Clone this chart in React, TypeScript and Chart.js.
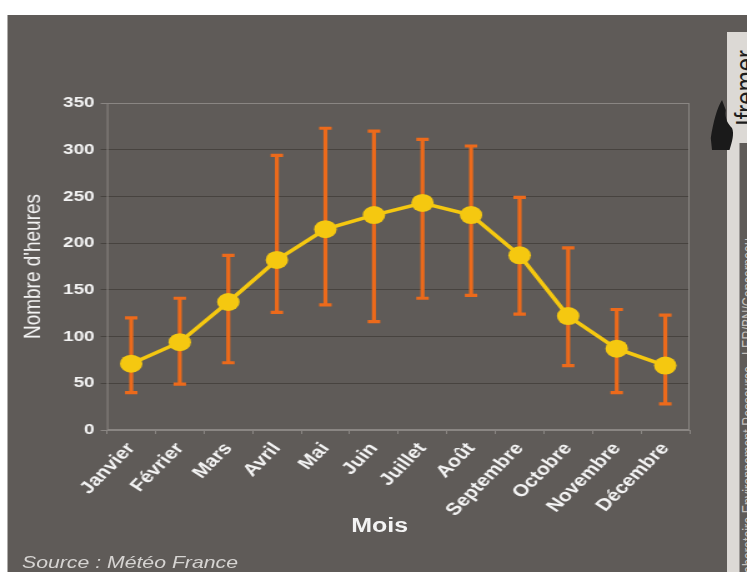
import { useEffect, useRef } from 'react';
import { Chart, registerables } from 'chart.js';

Chart.register(...registerables);

// Monthly sunshine (hours): mean, lowest and highest observed values
const months = ['Janvier', 'Février', 'Mars', 'Avril', 'Mai', 'Juin', 'Juillet', 'Août', 'Septembre', 'Octobre', 'Novembre', 'Décembre'];
const meanHours = [71, 94, 137, 182, 215, 230, 243, 230, 187, 122, 87, 69];
const lowHours = [40, 49, 72, 126, 134, 116, 141, 144, 124, 69, 40, 28];
const highHours = [120, 141, 187, 294, 323, 320, 311, 304, 249, 195, 129, 123];
const yMin = 0;
const yMax = 350;
const yStep = 50;

// Drawing surface is laid out narrow, then widened horizontally
const W = 598;
const H = 572;
const STRETCH = 747 / W;

const PANEL = '#5f5b58';
const GRID = '#47433f';
const FRAME = '#8a8683';
const TEXT = '#f3f3f3';
const ORANGE = '#ec6a1b';
const YELLOW = '#f5c810';

const FONT = '"Liberation Sans", Arial, sans-serif';

const errorBars = {
  id: 'errorBars',
  beforeDatasetsDraw(chart: any) {
    const { ctx, chartArea, scales } = chart;
    const x = scales.x;
    const y = scales.y;
    ctx.save();
    ctx.strokeStyle = FRAME;
    ctx.lineWidth = 1;
    ctx.strokeRect(chartArea.left + 0.5, chartArea.top + 0.5, chartArea.width - 1, chartArea.height - 1);

    ctx.strokeStyle = ORANGE;
    ctx.lineWidth = 3.2;
    ctx.lineCap = 'butt';
    months.forEach((_, i) => {
      const px = x.getPixelForValue(i);
      const top = y.getPixelForValue(highHours[i]);
      const bot = y.getPixelForValue(lowHours[i]);
      ctx.beginPath();
      ctx.moveTo(px, top);
      ctx.lineTo(px, bot);
      ctx.moveTo(px - 5, top);
      ctx.lineTo(px + 5, top);
      ctx.moveTo(px - 5, bot);
      ctx.lineTo(px + 5, bot);
      ctx.stroke();
    });
    ctx.restore();
  },
};

export default function App() {
  const canvasRef = useRef<HTMLCanvasElement>(null);

  useEffect(() => {
    const canvas = canvasRef.current;
    if (!canvas) return;
    const chart = new Chart(canvas, {
      type: 'line',
      data: {
        labels: months,
        datasets: [
          {
            data: meanHours,
            borderColor: YELLOW,
            borderWidth: 3.5,
            tension: 0,
            pointRadius: 9,
            pointBackgroundColor: YELLOW,
            pointBorderWidth: 0,
            pointHoverRadius: 9,
          },
        ],
      },
      options: {
        responsive: false,
        animation: false,
        devicePixelRatio: 1,
        events: [],
        layout: { padding: { left: 0, top: 103, right: W - 552, bottom: 0 } },
        plugins: { legend: { display: false }, tooltip: { enabled: false } },
        scales: {
          x: {
            offset: true,
            grid: { display: true, drawOnChartArea: false, offset: true, tickLength: 4, color: FRAME },
            border: { display: false },
            ticks: {
              color: TEXT,
              font: { family: FONT, size: 17, weight: 'bold' },
              minRotation: 51,
              maxRotation: 51,
              autoSkip: false,
              padding: 5,
            },
            afterFit: (s: any) => {
              s.height = H - 430;
            },
          },
          y: {
            min: yMin,
            max: yMax,
            grid: {
              color: (c: any) => (c.tick && (c.tick.value === yMin || c.tick.value === yMax) ? FRAME : GRID),
              tickLength: 5,
              lineWidth: 1,
            },
            border: { display: false },
            ticks: {
              stepSize: yStep,
              color: TEXT,
              font: { family: FONT, size: 15, weight: 'bold' },
              padding: 5,
            },
            title: {
              display: true,
              text: "Nombre d'heures",
              color: TEXT,
              font: { family: FONT, size: 19, weight: 'normal' },
              padding: { top: 15, bottom: 0 },
            },
            afterFit: (s: any) => {
              s.width = 85.6;
            },
          },
        },
      },
      plugins: [errorBars],
    });
    return () => chart.destroy();
  }, []);

  return (
    <div
      style={{
        position: 'absolute',
        left: 0,
        top: 0,
        width: W,
        height: H,
        overflow: 'hidden',
        background: '#ffffff',
        transform: `scaleX(${STRETCH})`,
        transformOrigin: '0 0',
      }}
    >
      <div style={{ position: 'absolute', left: 5.6, top: 15, width: W - 5.6, height: H - 15, background: PANEL }} />

      <canvas
        ref={canvasRef}
        width={W}
        height={H}
        style={{ position: 'absolute', left: 0, top: 0, width: W, height: H }}
      />

      <div
        style={{
          position: 'absolute',
          left: 254,
          width: 100,
          top: 514,
          lineHeight: '24px',
          textAlign: 'center',
          font: `bold 20px ${FONT}`,
          color: TEXT,
        }}
      >
        Mois
      </div>

      <div
        style={{
          position: 'absolute',
          left: 17.6,
          top: 553,
          lineHeight: '20px',
          whiteSpace: 'nowrap',
          font: `italic 17px ${FONT}`,
          color: '#d6d4d2',
        }}
      >
        Source : Météo France
      </div>

      {/* Ifremer side banner */}
      <div style={{ position: 'absolute', left: 582, top: 32, width: W - 582, height: H - 32, background: '#dcd9d5' }} />
      <div
        style={{
          position: 'absolute',
          left: 582.5,
          top: 126,
          lineHeight: '24px',
          whiteSpace: 'nowrap',
          font: `24px ${FONT}`,
          color: '#1c1c1c',
          transform: 'rotate(-90deg)',
          transformOrigin: '0 0',
        }}
      >
        Ifremer
      </div>
      <svg
        width={W}
        height={H}
        style={{ position: 'absolute', left: 0, top: 0, pointerEvents: 'none' }}
      >
        <path
          d="M578,100 C574,108 571,122 569,138 L570,150 L584,150 C586,142 588,134 586,128 C583,124 580,119 581,110 Z"
          fill="#1a1a1a"
        />
      </svg>
      <div
        style={{
          position: 'absolute',
          left: 592.4,
          top: 143,
          width: W - 592.4,
          height: H - 143,
          background: PANEL,
          overflow: 'hidden',
        }}
      >
        <div
          style={{
            position: 'absolute',
            left: 0.6,
            top: 437,
            lineHeight: '13px',
            whiteSpace: 'nowrap',
            font: `12.5px ${FONT}`,
            color: '#c4c0bc',
            transform: 'rotate(-90deg)',
            transformOrigin: '0 0',
          }}
        >
          Laboratoire Environnement Ressource - LER/BN/Concarneau
        </div>
      </div>
    </div>
  );
}
